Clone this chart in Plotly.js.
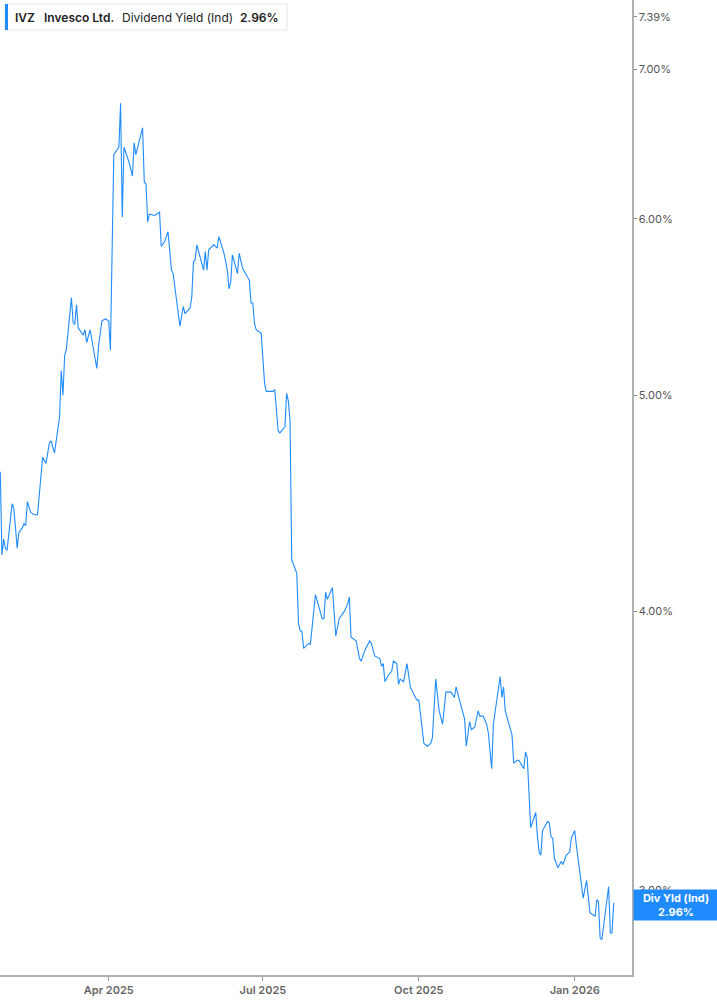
<!DOCTYPE html>
<html>
<head>
<meta charset="utf-8">
<script src="https://cdn.plot.ly/plotly-3.0.1.min.js"></script>
<style>html,body{margin:0;padding:0;background:#fff;}#chart{width:717px;height:1005px;}</style>
</head>
<body>
<div id="chart"></div>
<script>
const dates = [
"2025-01-27","2025-01-28","2025-01-29","2025-01-30","2025-01-31","2025-02-03","2025-02-04","2025-02-06","2025-02-07","2025-02-09",
"2025-02-10","2025-02-11","2025-02-12","2025-02-14","2025-02-16","2025-02-18","2025-02-21","2025-02-23","2025-02-25","2025-02-26",
"2025-02-28","2025-03-03","2025-03-04","2025-03-05","2025-03-06","2025-03-07","2025-03-10","2025-03-11","2025-03-12","2025-03-13",
"2025-03-14","2025-03-17","2025-03-18","2025-03-19","2025-03-21","2025-03-23","2025-03-25","2025-03-26","2025-03-28","2025-03-30",
"2025-04-01","2025-04-02","2025-04-04","2025-04-07","2025-04-08","2025-04-09","2025-04-10","2025-04-13","2025-04-15","2025-04-16",
"2025-04-17","2025-04-21","2025-04-22","2025-04-23","2025-04-24","2025-04-25","2025-04-28","2025-05-01","2025-05-02","2025-05-04",
"2025-05-06","2025-05-08","2025-05-09","2025-05-13","2025-05-15","2025-05-16","2025-05-19","2025-05-20","2025-05-21","2025-05-22",
"2025-05-23","2025-05-27","2025-05-28","2025-05-29","2025-05-30","2025-06-02","2025-06-04","2025-06-05","2025-06-08","2025-06-10",
"2025-06-11","2025-06-12","2025-06-13","2025-06-16","2025-06-17","2025-06-19","2025-06-23","2025-06-24","2025-06-25","2025-06-26",
"2025-06-27","2025-06-30","2025-07-02","2025-07-03","2025-07-07","2025-07-08","2025-07-10","2025-07-11","2025-07-14","2025-07-15",
"2025-07-16","2025-07-17","2025-07-18","2025-07-20","2025-07-21","2025-07-22","2025-07-23","2025-07-24","2025-07-25","2025-07-28",
"2025-07-29","2025-08-01","2025-08-05","2025-08-06","2025-08-07","2025-08-08","2025-08-11","2025-08-13","2025-08-15","2025-08-18",
"2025-08-20","2025-08-21","2025-08-22","2025-08-25","2025-08-27","2025-08-28","2025-08-30","2025-09-02","2025-09-03","2025-09-05",
"2025-09-08","2025-09-09","2025-09-10","2025-09-11","2025-09-13","2025-09-15","2025-09-16","2025-09-18","2025-09-19","2025-09-20",
"2025-09-22","2025-09-24","2025-09-26","2025-09-29","2025-09-30","2025-10-01","2025-10-04","2025-10-06","2025-10-08","2025-10-09",
"2025-10-11","2025-10-13","2025-10-15","2025-10-17","2025-10-20","2025-10-22","2025-10-23","2025-10-25","2025-10-28","2025-10-29",
"2025-10-31","2025-11-01","2025-11-03","2025-11-05","2025-11-06","2025-11-08","2025-11-10","2025-11-11","2025-11-13","2025-11-14",
"2025-11-16","2025-11-18","2025-11-19","2025-11-20","2025-11-21","2025-11-25","2025-11-26","2025-11-28","2025-11-29","2025-12-02",
"2025-12-03","2025-12-04","2025-12-06","2025-12-09","2025-12-10","2025-12-11","2025-12-12","2025-12-13","2025-12-16","2025-12-17",
"2025-12-18","2025-12-19","2025-12-20","2025-12-22","2025-12-24","2025-12-25","2025-12-27","2025-12-29","2025-12-30","2026-01-01",
"2026-01-02","2026-01-06","2026-01-08","2026-01-09","2026-01-10","2026-01-13","2026-01-14","2026-01-15","2026-01-16","2026-01-17",
"2026-01-21","2026-01-22","2026-01-23","2026-01-24"
];
const divYield = [
4.62,4.24,4.31,4.27,4.26,4.47,4.45,4.27,4.34,4.36,
4.38,4.37,4.48,4.43,4.42,4.42,4.69,4.66,4.76,4.77,
4.71,4.89,5.13,5.00,5.21,5.24,5.53,5.39,5.38,5.49,
5.36,5.32,5.35,5.28,5.35,5.24,5.14,5.26,5.40,5.41,
5.40,5.24,6.41,6.46,6.76,6.01,6.46,6.36,6.27,6.49,
6.41,6.59,6.23,6.22,5.98,6.03,6.02,6.04,5.83,5.86,
5.92,5.69,5.67,5.37,5.48,5.44,5.47,5.53,5.74,5.75,
5.84,5.69,5.80,5.69,5.81,5.84,5.82,5.89,5.79,5.69,
5.58,5.62,5.78,5.67,5.79,5.70,5.63,5.50,5.50,5.39,
5.35,5.33,5.06,5.02,5.02,5.03,4.82,4.81,4.84,5.01,
4.97,4.87,4.22,4.18,4.16,3.95,3.92,3.92,3.85,3.87,
3.865,4.07,3.97,3.97,4.08,4.05,4.10,3.90,3.97,4.00,
4.03,4.06,3.895,3.88,3.81,3.80,3.84,3.88,3.87,3.82,
3.81,3.78,3.79,3.72,3.745,3.76,3.80,3.79,3.71,3.73,
3.72,3.79,3.70,3.66,3.65,3.65,3.49,3.48,3.49,3.51,
3.73,3.61,3.56,3.68,3.68,3.66,3.70,3.65,3.58,3.48,
3.57,3.54,3.55,3.61,3.59,3.59,3.56,3.53,3.40,3.56,
3.66,3.74,3.66,3.70,3.61,3.52,3.42,3.43,3.43,3.40,
3.46,3.44,3.20,3.25,3.17,3.12,3.11,3.19,3.22,3.215,
3.17,3.165,3.10,3.07,3.09,3.08,3.11,3.12,3.165,3.19,
3.14,2.975,3.03,2.97,2.93,2.92,2.97,2.965,2.855,2.85,
3.01,2.87,2.87,2.96
];
const yTickVals = [3, 4, 5, 6, 7, 7.39];
const yTickText = ["3.00%", "4.00%", "5.00%", "6.00%", "7.00%", "7.39%"];
const xTickVals = ["2025-04-01", "2025-07-01", "2025-10-01", "2026-01-01"];
const xTickText = ["Apr 2025", "Jul 2025", "Oct 2025", "Jan 2026"];
const ticker = "IVZ";
const company = "Invesco Ltd.";
const metric = "Dividend Yield (Ind)";
const lastLabel = "Div Yld (Ind)";
const lastValue = "2.96%";

const W = 632, H = 975; // plot area in px
const px = x => x / W;
const py = y => 1 - y / H;
const blue = "#1f8bff";
const font = "Inter, 'Noto Sans', sans-serif";

const trace = {
  x: dates, y: divYield, type: "scatter", mode: "lines",
  line: {color: blue, width: 1.1}, hoverinfo: "skip"
};

function headerText(x, text, weight) {
  return {xref: "paper", yref: "paper", x: px(x), y: py(17), xanchor: "left", yanchor: "middle",
    text: text, showarrow: false, font: {family: font, size: 12, color: "#222", weight: weight}};
}

const layout = {
  width: 717, height: 1005,
  margin: {l: 0, r: 85, t: 0, b: 30, pad: 0},
  paper_bgcolor: "#fff", plot_bgcolor: "#fff",
  showlegend: false,
  font: {family: font},
  xaxis: {
    type: "date",
    range: ["2025-01-26 20:24", "2026-02-03 19:12"],
    tickvals: xTickVals, ticktext: xTickText,
    showgrid: false, zeroline: false,
    showline: true, linecolor: "#b0b0b0", linewidth: 1.5,
    ticks: "outside", ticklen: 4, tickcolor: "#999", tickwidth: 1,
    tickfont: {family: font, size: 11, color: "#666", weight: 600}
  },
  yaxis: {
    type: "log", side: "right",
    range: [Math.log10(2.748), Math.log10(7.52)],
    tickvals: yTickVals, ticktext: yTickText,
    showgrid: false, zeroline: false,
    showline: true, linecolor: "#b0b0b0", linewidth: 1.5,
    ticks: "outside", ticklen: 3, tickcolor: "#888", tickwidth: 1,
    tickfont: {family: font, size: 11, color: "#555"}
  },
  shapes: [
    {type: "rect", xref: "paper", yref: "paper", x0: px(5), x1: px(287), y0: py(30), y1: py(4),
     line: {color: "#e6e6e6", width: 1}, fillcolor: "#fff", layer: "above"},
    {type: "rect", xref: "paper", yref: "paper", x0: px(5), x1: px(8), y0: py(30), y1: py(4),
     line: {width: 0}, fillcolor: blue, layer: "above"}
  ],
  annotations: [
    headerText(13, ticker, 600),
    headerText(42, company, 600),
    headerText(120, metric, 400),
    headerText(238, lastValue, 600),
    {xref: "paper", yref: "paper", x: px(633), y: py(905), xanchor: "left", yanchor: "middle",
     text: "<b>" + lastLabel + "</b><br><b>" + lastValue + "</b>", showarrow: false,
     bgcolor: blue, width: 80, height: 26, borderpad: 2, align: "center",
     font: {family: font, size: 11, color: "#fff"}}
  ]
};

Plotly.newPlot("chart", [trace], layout, {displayModeBar: false, staticPlot: true});
</script>
</body>
</html>
